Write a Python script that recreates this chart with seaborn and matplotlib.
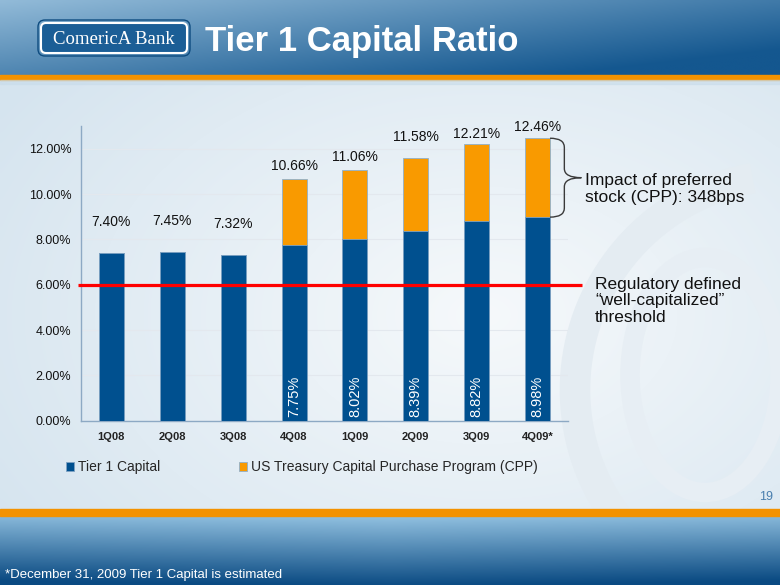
import numpy as np
import pandas as pd
import matplotlib
matplotlib.use("Agg")
import matplotlib.pyplot as plt
import seaborn as sns
from matplotlib.patches import FancyBboxPatch, Patch, Rectangle, Ellipse
from matplotlib.path import Path
from matplotlib.patches import PathPatch

# ---------------- data ----------------
quarters = ["1Q08", "2Q08", "3Q08", "4Q08", "1Q09", "2Q09", "3Q09", "4Q09*"]
tier1 = [7.40, 7.45, 7.32, 7.75, 8.02, 8.39, 8.82, 8.98]
total = [7.40, 7.45, 7.32, 10.66, 11.06, 11.58, 12.21, 12.46]
cpp_flag = [False, False, False, True, True, True, True, True]
threshold = 6.0
yticks = [0, 2, 4, 6, 8, 10, 12]
legend_labels = ["Tier 1 Capital", "US Treasury Capital Purchase Program (CPP)"]
title = "Tier 1 Capital Ratio"
brace_text = "Impact of preferred\nstock (CPP): 348bps"
threshold_text = "Regulatory defined\n\u201cwell-capitalized\u201d\nthreshold"
footnote = "*December 31, 2009 Tier 1 Capital is estimated"
page_no = "19"

# ---------------- style ----------------
BLUE = "#00508F"
ORANGE = "#F99A00"
sns.set_theme(style="white")
plt.rcParams["font.family"] = ["Liberation Sans", "DejaVu Sans"]

W, H = 780, 585
fig = plt.figure(figsize=(W / 100, H / 100), dpi=100)

# ---------------- background ----------------
bg = fig.add_axes([0, 0, 1, 1], zorder=-10)
bg.set_xlim(0, W)
bg.set_ylim(H, 0)
bg.axis("off")

def hexrgb(h):
    h = h.lstrip("#")
    return np.array([int(h[i:i + 2], 16) / 255 for i in (0, 2, 4)])

# body
xx, yy = np.meshgrid(np.linspace(0, 1, 200), np.linspace(0, 1, 150))
c_light = hexrgb("#F6F9FB")
c_tint = hexrgb("#D5E4EF")
d = np.clip(np.sqrt(((xx - 0.62) / 0.75) ** 2 + ((yy - 0.55) / 0.9) ** 2), 0, 1)
body = c_light[None, None, :] * (1 - d[..., None]) + c_tint[None, None, :] * d[..., None]
bg.imshow(body, extent=(0, W, 510, 78), aspect="auto", interpolation="bicubic", zorder=0)

# faint watermark logo
theta = np.linspace(np.deg2rad(100), np.deg2rad(245), 200)
bg.plot(790 + 215 * np.cos(theta), 390 - 215 * np.sin(theta), color="#E4ECF2", lw=22,
        solid_capstyle="butt", zorder=1)
bg.add_patch(Ellipse((705, 375), 150, 235, fc="none", ec="#E7EEF4", lw=14, zorder=1))

# header
hx, hy = np.meshgrid(np.linspace(0, 1, 200), np.linspace(0, 1, 40))
h_light = hexrgb("#A8CCE5")
h_dark = hexrgb("#14578F")
t = np.clip(0.15 + 0.55 * hx + 0.45 * hy, 0, 1)
head = h_light[None, None, :] * (1 - t[..., None]) + h_dark[None, None, :] * t[..., None]
bg.imshow(head, extent=(0, W, 75, 0), aspect="auto", interpolation="bicubic", zorder=2)
bg.add_patch(Rectangle((0, 75), W, 5, color="#F39200", zorder=3))
bg.add_patch(Rectangle((0, 80), W, 4, color="#C9DCEA", zorder=3, alpha=0.6))

# footer
fx, fy = np.meshgrid(np.linspace(0, 1, 200), np.linspace(0, 1, 40))
f_light = hexrgb("#94C3E2")
f_dark = hexrgb("#0A4A82")
tf = np.clip(0.02 + 0.95 * fy + 0.15 * np.abs(fx - 0.5), 0, 1)
foot = f_light[None, None, :] * (1 - tf[..., None]) + f_dark[None, None, :] * tf[..., None]
bg.imshow(foot, extent=(0, W, H, 516), aspect="auto", interpolation="bicubic", zorder=2)
bg.add_patch(Rectangle((0, 509), W, 7, color="#F39200", zorder=3))

# logo
bg.add_patch(FancyBboxPatch((41, 23), 146, 30, boxstyle="round,pad=0,rounding_size=5",
                            fc="#1B5E96", ec="white", lw=1.5, zorder=4))
bg.add_patch(FancyBboxPatch((38, 20), 152, 36, boxstyle="round,pad=0,rounding_size=7",
                            fc="none", ec="#0E4C80", lw=1.0, zorder=4))
bg.text(114, 39, "ComericA Bank", color="white", fontsize=13.5, ha="center", va="center",
        family=["Liberation Serif", "DejaVu Serif"], zorder=5)
bg.text(205, 41, title, color="white", fontsize=25, fontweight="bold",
        ha="left", va="center", zorder=5)
bg.text(773, 497, page_no, color="#4A7FAE", fontsize=9, ha="right", va="center", zorder=5)
bg.text(5, 575, footnote, color="white", fontsize=9.5, ha="left", va="center", zorder=5)

# ---------------- chart ----------------
ax = fig.add_axes([81 / W, 1 - 420.7 / H, 487 / W, (420.7 - 126) / H])
ax.set_facecolor("none")
df = pd.DataFrame({"quarter": quarters, "tier1": tier1, "total": total})
sns.barplot(data=df, x="quarter", y="total", color=ORANGE, saturation=1, width=0.41,
            edgecolor="#8FB0CC", linewidth=0.6, ax=ax, zorder=3)
sns.barplot(data=df, x="quarter", y="tier1", color=BLUE, saturation=1, width=0.41,
            edgecolor="#7FA3C4", linewidth=0.6, ax=ax, zorder=4)

ax.set_ylim(0, 13)
ax.set_xlim(-0.5, len(quarters) - 0.5)
ax.set_yticks(yticks)
ax.set_yticklabels([f"{v:.2f}%" for v in yticks], fontsize=9, color="#111111")
ax.set_xticks(range(len(quarters)))
ax.set_xticklabels(quarters, fontsize=8, fontweight="bold", color="#222222")
ax.set_xticks(np.arange(-0.5, len(quarters), 1.0), minor=True)
ax.tick_params(axis="x", which="major", length=0, pad=8)
ax.tick_params(axis="x", which="minor", length=4, color="#8DA9C4", direction="out")
ax.tick_params(axis="y", which="major", length=4, color="#8DA9C4", direction="out", pad=3)
ax.set_xlabel("")
ax.set_ylabel("")
for s in ["top", "right"]:
    ax.spines[s].set_visible(False)
for s in ["left", "bottom"]:
    ax.spines[s].set_color("#8DA9C4")
    ax.spines[s].set_linewidth(1.0)
ax.yaxis.grid(True, color="#E3E8EE", lw=0.8, zorder=0)
ax.set_axisbelow(True)

# labels above bars (offset in points, as placed on the original slide)
label_offsets = [17, 17, 17, 4, 4, 10, 2, 3]
for i, (tv, off) in enumerate(zip(total, label_offsets)):
    ax.annotate(f"{tv:.2f}%", (i, tv), xytext=(0, off), textcoords="offset points",
                ha="center", va="bottom", fontsize=10, color="#111111", zorder=6)
# inner tier-1 labels for CPP quarters
for i, (tv, flag) in enumerate(zip(tier1, cpp_flag)):
    if flag:
        ax.annotate(f"{tv:.2f}%", (i, 0), xytext=(0, 3), textcoords="offset points",
                    ha="center", va="bottom", rotation=90, fontsize=10.5,
                    color="white", zorder=6)

# threshold line
ax.plot([-0.55, 7.73], [threshold, threshold], color="#FF0000", lw=2.3,
        clip_on=False, zorder=7, solid_capstyle="butt")

# brace
last = len(quarters) - 1
x0, xm, x1 = last + 0.205, last + 0.44, last + 0.72
ytop, ybot = total[-1], tier1[-1]
ymid = (ytop + ybot) / 2
r = 0.4
verts = [(x0, ytop), (xm, ytop), (xm, ytop - r), (xm, ymid + r), (xm, ymid), (x1, ymid),
         (xm, ymid), (xm, ymid - r), (xm, ybot + r), (xm, ybot), (x0, ybot)]
codes = [Path.MOVETO, Path.CURVE3, Path.CURVE3, Path.LINETO, Path.CURVE3, Path.CURVE3,
         Path.CURVE3, Path.CURVE3, Path.LINETO, Path.CURVE3, Path.CURVE3]
ax.add_patch(PathPatch(Path(verts, codes), fc="none", ec="#3A3A3A", lw=1.0,
                       clip_on=False, zorder=7))

fig.text(585 / W, 1 - 189 / H, brace_text, fontsize=12.5, color="#111111",
         ha="left", va="center", linespacing=1.15)
fig.text(595 / W, 1 - 301 / H, threshold_text, fontsize=12.5, color="#111111",
         ha="left", va="center", linespacing=1.12)

# legend
handles = [Patch(fc=BLUE, ec="#7FA3C4", lw=0.6), Patch(fc=ORANGE, ec="#8FB0CC", lw=0.6)]
fig.legend(handles, legend_labels, loc="center left", bbox_to_anchor=(66 / W, 1 - 467 / H),
           ncol=2, frameon=False, fontsize=10, handlelength=0.6, handleheight=0.6,
           handletextpad=0.3, columnspacing=5.6, borderpad=0, borderaxespad=0)

fig.savefig("out.png", dpi=100)
